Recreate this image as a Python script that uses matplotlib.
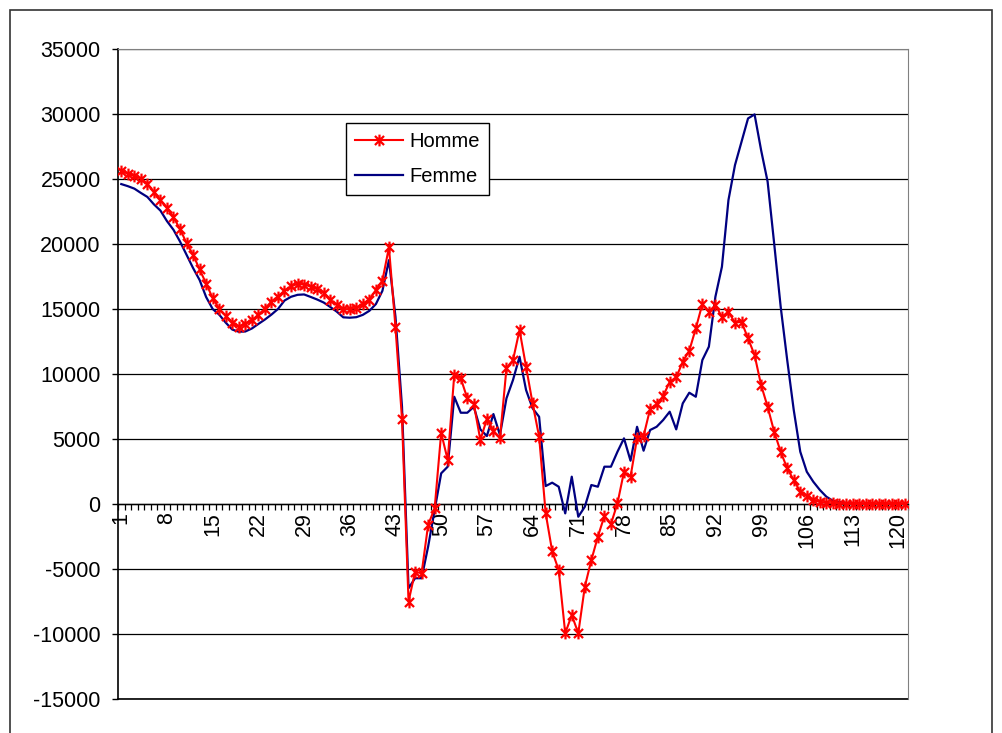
import numpy as np
import matplotlib
matplotlib.use("Agg")
import matplotlib.pyplot as plt
from matplotlib.path import Path
from matplotlib.patches import Rectangle

plt.rcParams['font.family'] = ['Liberation Sans', 'DejaVu Sans']

# valeurs (121 categories)
homme = [25630, 25400, 25220, 25030, 24650, 23970, 23390, 22790, 22050, 21150,
         20070, 19180, 18040, 16960, 15840, 15030, 14460, 13960, 13640, 13880,
         14130, 14550, 15030, 15570, 15960, 16420, 16740, 16930, 16880, 16730,
         16530, 16260, 15730, 15300, 14980, 15000, 15070, 15400, 15730, 16460,
         17190, 19750, 13590, 6540, -7510, -5210, -5330, -1610, -330, 5480,
         3380, 9920, 9670, 8130, 7690, 4920, 6540, 5640, 5050, 10440,
         11070, 13380, 10560, 7740, 5180, -700, -3630, -5080, -9940, -8540,
         -9940, -6360, -4310, -2510, -920, -1540, 50, 2480, 2100, 5050,
         5230, 7310, 7670, 8300, 9400, 9740, 10940, 11790, 13510, 15380,
         14790, 15300, 14400, 14790, 13940, 14020, 12740, 11460, 9150, 7480,
         5560, 4020, 2740, 1840, 950, 620, 310, 150, 80, 50,
         20, 10, 0, 0, 0, 0, 0, 0, 0, 0, 0]
femme = [24610, 24450, 24260, 23930, 23620, 23050, 22570, 21760, 21090, 20190,
         19170, 18150, 17230, 15920, 15000, 14570, 13950, 13420, 13250, 13270,
         13500, 13850, 14190, 14570, 15000, 15650, 15940, 16090, 16120, 15930,
         15730, 15500, 15160, 14800, 14360, 14330, 14370, 14550, 14860, 15380,
         16400, 18760, 14400, 7480, -6480, -5710, -5710, -3280, -460, 2360,
         2870, 8250, 7020, 7020, 7480, 5740, 5230, 6920, 5310, 8130,
         9540, 11330, 8770, 7360, 6710, 1380, 1640, 1330, -720, 2100,
         -980, -210, 1460, 1330, 2870, 2870, 4020, 5050, 3330, 5940,
         4100, 5690, 5940, 6460, 7100, 5740, 7740, 8560, 8250, 11070,
         12100, 15940, 18250, 23380, 26070, 27860, 29660, 29970, 27220, 24790,
         20050, 15170, 11070, 7230, 4020, 2480, 1710, 1080, 560, 250,
         150, 80, 40, 20, 20, 10, 10, 10, 10, 10, 10]
categories = np.arange(1, len(homme) + 1)
xlabels = list(range(1, 121, 7))
yticks = list(range(-15000, 35001, 5000))

# marqueur etoile facon Excel (x + barre verticale)
star = Path([(-1, -1), (1, 1), (-1, 1), (1, -1), (0, -1.3), (0, 1.3)],
            [Path.MOVETO, Path.LINETO, Path.MOVETO, Path.LINETO, Path.MOVETO, Path.LINETO])

fig = plt.figure(figsize=(10.02, 7.33), dpi=100)
ax = fig.add_axes([118/1002, 1 - 699/733, 790/1002, 650/733])

ax.plot(categories, homme, color='#FF0000', lw=1.5, marker=star, ms=8.5,
        mew=1.6, mec='#FF0000', label='Homme', zorder=4)
ax.plot(categories, femme, color='#000080', lw=1.6, label='Femme', zorder=3)

ax.set_xlim(0.5, len(homme) + 0.5)
ax.set_ylim(-15000, 35000)
ax.set_yticks(yticks)
ax.set_yticklabels([str(v) for v in yticks])
ax.yaxis.grid(True, color='black', lw=0.9)
ax.set_axisbelow(True)
ax.axhline(-15000, color='black', lw=1.2, clip_on=False, zorder=0.5)

ax.set_xticks(xlabels)
ax.set_xticklabels([str(v) for v in xlabels])
ax.set_xticks(np.arange(0.5, len(homme) + 1, 1), minor=True)
ax.tick_params(axis='x', which='major', length=0, pad=6, labelsize=15.5, labelrotation=90)
ax.tick_params(axis='x', which='minor', length=4, width=0.9, direction='out')
ax.tick_params(axis='y', length=4.5, width=1, direction='out', pad=8, labelsize=15.5)

ax.spines['bottom'].set_position(('data', 0))
ax.spines['bottom'].set_color('black')
ax.spines['bottom'].set_linewidth(1)
ax.spines['left'].set_linewidth(1.2)
ax.spines['top'].set_color('#808080')
ax.spines['right'].set_color('#808080')

leg = ax.legend(loc='upper left', bbox_to_anchor=((346-118)/790, (699-123)/650),
                borderaxespad=0, fontsize=14.5, fancybox=False, framealpha=1,
                edgecolor='black', handlelength=2.4, handletextpad=0.3,
                labelspacing=0.8, borderpad=0.45)
leg.get_frame().set_linewidth(1)

# cadre exterieur du graphique
fig.add_artist(Rectangle((10/1002, -0.02), 982/1002, 1 - 10/733 + 0.02,
                         transform=fig.transFigure, fill=False,
                         edgecolor='#333333', lw=1.2))

fig.savefig('out.png', dpi=100)
